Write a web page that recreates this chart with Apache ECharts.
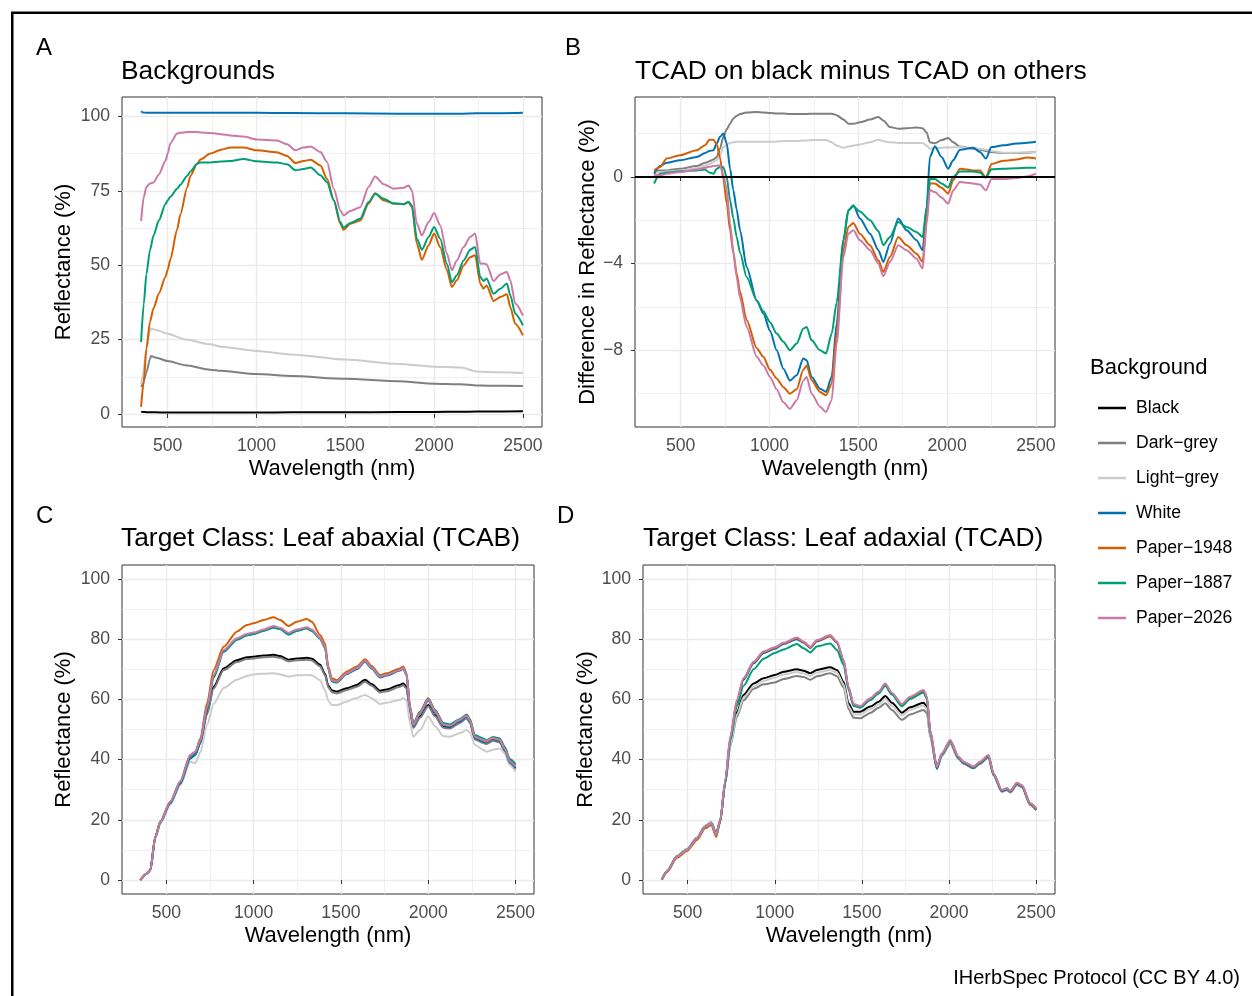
<!DOCTYPE html>
<html><head><meta charset="utf-8">
<script src="https://cdn.jsdelivr.net/npm/echarts@6/dist/echarts.min.js"></script>
<style>html,body{margin:0;padding:0;background:#fff}#c{width:1252px;height:996px}</style>
</head><body><div id="c"></div><script>
const FONT = '"Liberation Sans", Arial, Helvetica, sans-serif';
const seriesNames = ['Black','Dark\u2212grey','Light\u2212grey','White','Paper\u22121948','Paper\u22121887','Paper\u22122026'];
const seriesColors = ['#000000','#7f7f7f','#cccccc','#0072B2','#D55E00','#009E73','#CC79A7'];
const xTicks = [500,1000,1500,2000,2500];
const xMinor = [750,1250,1750,2250];
const yTicksA = [0,25,50,75,100];
const yMinorA = [12.5,37.5,62.5,87.5];
const yTicksB = [-8,-4,0];
const yMinorB = [-10,-6,-2,2];
const yTicksCD = [0,20,40,60,80,100];
const yMinorCD = [10,30,50,70,90];

// ---------- Panel A: Backgrounds ----------
const A_wl_bg = [350,360,380,400,406,430,500,600,740,800,1000,1200,1500,1800,2000,2150,2240,2300,2500];
const A_black = [0.8,0.7,0.6,0.6,0.6,0.55,0.5,0.5,0.5,0.5,0.5,0.55,0.6,0.65,0.7,0.75,0.8,0.8,0.9];
const A_darkgrey = [9.1,10,14,18.5,19.5,19,17.8,16.4,14.9,14.5,13.4,12.8,11.8,11.0,10.2,10.0,9.6,9.5,9.4];
const A_lightgrey = [10,13,22,27.8,28.6,28.3,27,25,23.4,22.6,21.2,20,18.3,16.8,15.9,15.6,14.3,14.1,13.8];
const A_white = [101.7,101.3,101.2,101.2,101.2,101.2,101.2,101.2,101.2,101.2,101.2,101.1,101.0,100.9,100.9,100.9,101.0,101.0,101.2];
const A_wl = [350,365,380,400,420,450,487,500,515,553,571,609,628,665,684,740,800,853,928,1000,1115,1172,1219,1265,1305,1360,1397,1435,1472,1490,1528,1584,1631,1668,1716,1772,1828,1856,1875,1903,1931,1969,2000,2034,2072,2100,2128,2166,2203,2231,2260,2278,2295,2335,2373,2410,2429,2457,2500];
const A_p1948 = [2.4,11,22,31,35.5,40.5,46,48.5,52,62,67,76,80,84,85.5,87.5,88.8,89.5,89.5,88.6,87.9,86.7,84.3,85,85.4,83.5,79,71.8,63.9,61.9,63.9,65,70.7,74.2,71.8,70.7,70.5,71.2,69.5,57.2,51.8,56.7,60.6,56.1,48.3,42.7,44.9,49.9,52.7,53.3,43.8,42.1,43.2,38,39.3,40.2,35.9,30.3,26.4];
const A_p1887 = [24.2,37,47,55,60,65,70.5,71.8,73,75.7,77,80,81.5,84.1,84.5,84.5,84.8,85,85.7,84.9,84.5,83.9,81.9,82.3,82.8,80.2,77.9,71.8,64.5,62.6,64.2,65.6,71.2,74,72.3,70.7,70.5,71.2,70.1,58.9,55.2,59.5,62.8,58.9,50.5,44.3,46.6,51.6,55.2,56.1,46,44.7,45.5,40.4,42.1,43.8,39.9,33.7,29.8];
const A_p2026 = [64.8,72.9,76.3,77.4,77.8,80.5,85,87.5,91,94.2,94.5,94.7,94.7,94.7,94.6,94.4,94,93.6,93.2,92.2,91.9,90.6,88.6,89.5,89.9,88,84.7,75.7,68.4,66.7,68.2,69.5,76.3,79.8,77.2,75.7,76,76.8,75.1,63.9,60,64.5,67.5,63.4,53.9,48.3,51.6,56.1,59.5,60.6,50.5,50.6,50.3,44.7,46.9,47.7,44.9,37.1,33.1];

// ---------- Panel B: TCAD on black minus TCAD on others ----------
const B_wl = [350,384,421,496,590,637,661,684,703,721,740,759,778,796,815,834,871,928,965,1003,1040,1078,1115,1153,1190,1209,1237,1284,1318,1350,1378,1416,1444,1472,1509,1566,1613,1641,1678,1725,1772,1828,1862,1885,1903,1931,1969,2006,2034,2072,2147,2185,2218,2250,2316,2391,2450,2500];
const B_darkgrey = [0.3,0.3,0.3,0.38,0.5,0.65,0.72,0.8,0.92,1.3,1.85,2.2,2.46,2.7,2.82,2.9,2.98,3.0,2.97,2.95,2.93,2.93,2.9,2.9,2.9,2.91,2.92,2.92,2.92,2.92,2.85,2.65,2.46,2.45,2.52,2.65,2.77,2.6,2.3,2.23,2.25,2.28,2.25,2.05,1.6,1.55,1.7,1.8,1.6,1.4,1.3,1.26,1.2,1.15,1.1,1.1,1.12,1.15];
const B_lightgrey = [0.15,0.2,0.25,0.3,0.4,0.52,0.6,0.68,0.77,1.0,1.38,1.5,1.57,1.6,1.62,1.62,1.62,1.62,1.62,1.62,1.64,1.65,1.66,1.66,1.68,1.68,1.7,1.7,1.7,1.6,1.45,1.35,1.4,1.45,1.5,1.6,1.72,1.65,1.6,1.57,1.57,1.57,1.57,1.45,1.3,1.33,1.35,1.36,1.37,1.38,1.35,1.3,1.25,1.2,1.12,1.12,1.13,1.15];
const B_white = [0.15,0.5,0.65,0.77,0.92,1.1,1.2,1.23,1.55,1.85,2.0,1.54,0.38,-0.6,-1.5,-2.46,-4.15,-5.7,-6.3,-7.1,-8,-8.85,-9.4,-9.15,-8.38,-8.46,-9.23,-9.77,-9.92,-9.23,-6.77,-2.92,-1.54,-1.31,-1.92,-2.62,-3.38,-3.92,-3.08,-1.92,-2.46,-2.92,-3.38,-1.38,0.92,1.42,0.92,0.38,0.77,1.26,1.35,1.15,0.85,1.38,1.46,1.54,1.58,1.62];
const B_p1948 = [0.3,0.46,0.85,1.0,1.23,1.46,1.72,1.72,1.5,0.9,-0.1,-1.2,-2.46,-3.5,-4.46,-5.3,-6.6,-7.9,-8.3,-8.9,-9.3,-9.7,-10.0,-9.8,-8.9,-8.7,-9.38,-9.92,-10.08,-9.54,-7.23,-3.38,-2.31,-2.12,-2.62,-3.15,-3.85,-4.38,-3.69,-2.77,-3.15,-3.54,-3.92,-1.85,-0.3,-0.3,-0.5,-0.77,-0.15,0.38,0.3,0.3,-0.03,0.6,0.75,0.8,0.9,0.85];
const B_p1887 = [-0.3,0.15,0.2,0.26,0.3,0.34,0.2,0.15,0.38,0.46,0.45,0.0,-1.08,-1.9,-2.77,-3.5,-4.62,-5.7,-6.2,-6.7,-7.23,-7.6,-8,-7.69,-7.0,-6.92,-7.54,-8,-8.15,-7.23,-5.8,-2.92,-1.54,-1.35,-1.6,-2.0,-2.5,-3.15,-2.77,-2.08,-2.31,-2.54,-2.77,-1.38,-0.1,-0.1,-0.3,-0.49,0.0,0.25,0.25,0.2,-0.03,0.35,0.38,0.4,0.42,0.43];
const B_p2026 = [0.08,0.08,0.15,0.23,0.34,0.42,0.47,0.5,0.52,0.54,0.1,-0.6,-2.15,-3.4,-4.62,-5.6,-6.92,-8.3,-8.7,-9.23,-9.8,-10.4,-10.7,-10.3,-9.4,-9.23,-10.0,-10.6,-10.85,-10.3,-7.7,-3.69,-2.62,-2.46,-2.92,-3.38,-4,-4.58,-3.92,-3.15,-3.38,-3.77,-4.23,-2.15,-0.6,-0.7,-0.95,-1.23,-0.62,-0.23,-0.3,-0.35,-0.62,-0.1,-0.1,-0.05,0.02,0.15];
const B_zeroLine = 0;

// ---------- Panel C: Leaf abaxial (TCAB) ----------
const C_wl = [351,389,408,437,466,523,580,637,666,695,733,771,828,904,961,1000,1057,1114,1152,1200,1247,1305,1333,1381,1409,1428,1448,1476,1533,1591,1638,1676,1724,1762,1838,1857,1876,1896,1915,1953,2000,2039,2086,2124,2182,2220,2239,2267,2315,2334,2372,2410,2439,2467,2500];
const C_black = [0,2.2,3.3,14.3,19.3,25.8,32.3,41,42,45.8,55.5,64.2,70.3,73,74,74.2,74.6,74.8,74.4,73.2,73.6,73.8,73.5,71.5,68.5,64.5,63,62.6,63.7,64.8,66.5,65.1,62.9,63.3,64.8,65.3,64.2,56,50.9,54.3,58.1,54.8,50.9,50.6,52.5,54,52.5,47,45.8,45.5,46.6,46,43,39,37.1];
const C_darkgrey = [0,2.2,3.3,14.3,19.3,25.8,32.3,41,42,45.6,55,63.6,69.7,72.4,73.4,73.6,74,74.2,73.8,72.6,73,73.2,72.9,71,68,64,62.4,62,63.1,64.2,65.9,64.5,62.3,62.7,64.2,64.7,63.6,55.6,50.5,53.9,57.7,54.4,50.6,50.3,52.2,53.7,52.2,46.7,45.5,45.2,46.3,45.7,42.7,38.7,36.8];
const C_lightgrey = [0,2.0,3.0,13.8,18.7,25,31.5,39.3,38.8,42.5,51.5,58.5,63.8,66.5,67.8,68.3,68.5,68.7,68.3,67.6,68,68.1,68,66.4,63,59.5,58.1,58.1,59.3,60.5,61.5,60.4,58.5,58.9,59.8,60.4,59.6,52,47.6,49.8,54.3,51.2,47.8,47.6,48.8,49.8,49,44.9,43.3,42.6,43.3,43.7,42,38.2,36];
const C_white = [0,2.2,3.3,14.2,19.2,25.5,32,40.3,41.5,45.5,56.8,67.3,75.8,79.8,81.3,81.7,82.8,83.9,83.4,81.6,82.8,83.6,82.8,80.2,77.2,70,66,65.6,68.4,70,72.5,70.3,67.3,67.9,69.6,70.2,68,56.8,51.2,55.2,59.6,55.7,51.4,51,52.8,54.4,52.7,47.2,46,45.7,46.8,46.2,43,39,37.2];
const C_p1948 = [0,2.2,3.3,14.4,19.4,26,32.7,41.5,42.6,47,58.7,69.8,77.5,82.5,84.7,85.3,86.4,87.3,86.4,84.4,85.8,86.7,85.8,81.4,78.6,70.9,67,66.4,69.2,70.9,73.3,71.1,68.1,68.7,70.3,70.9,68.7,57.6,52,55.9,60.4,56.5,52,51.5,53.2,54.8,53.2,47.8,46.5,46,47.1,46.5,43.7,39.9,38.2];
const C_p1887 = [0,2.2,3.3,14.4,19.4,26,32.7,41.3,42.4,46.2,57.2,67.8,76,79.9,81.3,81.8,82.8,83.9,83.4,81.6,82.8,83.6,82.8,80.2,77.2,70,66.2,65.8,68.6,70.3,72.8,70.6,67.6,68.2,69.8,70.4,68.2,57.4,51.9,55.8,60.2,56.4,52.2,51.7,53.5,55,53.5,48.2,47,46.5,47.5,47,44.2,40.2,38.6];
const C_p2026 = [0,2.2,3.3,14.4,19.4,26,32.7,41.5,42.6,46.5,57.5,68.1,76.4,80.3,81.7,82.2,83.2,84.4,83.8,82.1,83.2,84,83.2,80.5,77.5,70.3,66.4,65.9,68.7,70.4,72.8,70.6,67.6,68.2,69.8,70.4,68.2,57.2,51.6,55.5,60,56.1,51.7,51.3,53.2,54.6,53,47.6,46.5,46.2,47.2,46.6,43.5,39.4,37.8];

// ---------- Panel D: Leaf adaxial (TCAD) ----------
const D_wl = [353,381,439,496,554,601,636,664,687,716,745,783,821,879,936,1000,1051,1127,1165,1204,1242,1318,1357,1395,1423,1452,1490,1548,1596,1634,1672,1729,1777,1854,1873,1892,1930,1959,2007,2054,2083,2141,2178,2226,2255,2303,2332,2351,2390,2418,2466,2500];
const D_black = [0.2,2.8,7.9,10.2,14,18,19.2,15.5,19.8,32.5,45.5,55.8,61.5,65.3,67,68.1,69.2,70,69.5,68.7,69.8,70.7,69.8,65.9,58.7,55.9,55.9,57.6,59.2,61.1,58.9,55.6,57.4,58.9,57.6,48.5,37.6,41.8,46,40.7,39,37.5,39,41.2,35.2,29.7,30.3,29.5,32,31.2,25.3,23.6];
const D_darkgrey = [0.2,2.8,7.9,10.2,14,18,19.2,15.5,19.8,32,44.5,54.2,59.7,63.5,65,65.6,66.8,67.8,67.4,66.5,67.7,68.7,67.7,64,56.8,53.9,53.7,55.5,57.2,58.7,56.5,53.2,55,56.5,55.4,47.5,37,41.2,45.3,40.2,38.6,37.1,38.6,40.8,34.8,29.3,29.9,29.1,31.6,30.8,24.9,23.2];
const D_lightgrey = [0.2,2.8,7.9,10.2,14,18,19.2,15.5,19.8,32.3,45,55,60.6,64.4,66.1,67.2,68.3,69.1,68.6,67.8,68.9,69.8,68.9,65,57.8,55,55,56.7,58.3,60.1,58,54.7,56.5,58,56.8,48,37.2,41.4,45.6,40.4,38.8,37.3,38.8,41,35,29.5,30.1,29.3,31.8,31,25.1,23.4];
const D_white = [0.2,2.8,7.8,10,13.8,17.7,18.8,15.2,19.6,32.5,46.8,59,66.5,72,75.4,76.8,78.4,80,78.8,77.1,79.3,81,78.8,72.8,63.8,57.9,57.3,60,62.2,64.9,61.8,58.1,60.5,62.7,60.4,49,37,41.6,46,40.5,38.8,37.2,38.8,41,35,29.5,30.1,29.3,31.9,31.1,25.1,23.3];
const D_p1948 = [0.2,2.6,7.4,9.6,13.3,17.2,18.3,14.3,19.3,32.8,47.4,59.7,67,72.4,75.8,77.2,78.7,80.4,79,77.3,79.5,81.1,79,73,64,58.3,57.6,60.2,62.4,65,62,58.3,60.7,62.9,60.7,49.5,37.5,41.9,46.3,40.8,39.1,37.5,39.1,41.3,35.2,29.7,30.3,29.5,32.1,31.3,25.2,23.5];
const D_p1887 = [0.2,2.8,7.8,10,13.8,17.7,18.8,15,19.6,32.3,46.3,57.8,64.5,70,73.5,75.4,76.6,78.4,77,75.6,77.6,78.6,76.4,71.5,63.3,57.9,57.3,59.8,62,64.5,61.6,57.7,60.1,62.3,60.2,49.3,37.5,41.9,46.3,40.9,39.2,37.6,39.2,41.4,35.3,29.8,30.4,29.6,32.2,31.4,25.4,23.7];
const D_p2026 = [0.2,2.8,7.8,10,13.8,17.7,18.8,15,19.9,33.2,47.6,59.8,67,72.5,75.9,77.3,78.8,80.6,79.2,77.5,79.7,81.4,79.2,73.1,64.2,58.5,57.8,60.4,62.6,65.3,62.2,58.5,60.9,63.1,60.9,49.8,37.7,42.1,46.5,41,39.3,37.7,39.3,41.5,35.4,29.9,30.5,29.7,32.3,31.5,25.5,23.8];

// ---------- assemble ----------
const panels = [
  { grid:{left:122, top:97, width:420, height:330}, xr:[242.5,2607.5], yr:[-4.37,106.5],
    yTicks:yTicksA, yMinor:yMinorA, yName:'Reflectance (%)', yGap:47,
    lines:[[A_wl_bg,A_black],[A_wl_bg,A_darkgrey],[A_wl_bg,A_lightgrey],[A_wl_bg,A_white],[A_wl,A_p1948],[A_wl,A_p1887],[A_wl,A_p2026]] },
  { grid:{left:635, top:97, width:420, height:330}, xr:[242.5,2607.5], yr:[-11.54,3.69],
    yTicks:yTicksB, yMinor:yMinorB, yName:'Difference in Reflectance (%)', yGap:32,
    lines:[null,[B_wl,B_darkgrey],[B_wl,B_lightgrey],[B_wl,B_white],[B_wl,B_p1948],[B_wl,B_p1887],[B_wl,B_p2026]] },
  { grid:{left:122, top:565, width:412, height:329}, xr:[246,2606], yr:[-4.65,104.65],
    yTicks:yTicksCD, yMinor:yMinorCD, yName:'Reflectance (%)', yGap:47,
    lines:[[C_wl,C_black],[C_wl,C_darkgrey],[C_wl,C_lightgrey],[C_wl,C_white],[C_wl,C_p1948],[C_wl,C_p1887],[C_wl,C_p2026]] },
  { grid:{left:643, top:565, width:412, height:329}, xr:[244,2608], yr:[-4.65,104.65],
    yTicks:yTicksCD, yMinor:yMinorCD, yName:'Reflectance (%)', yGap:46,
    lines:[[D_wl,D_black],[D_wl,D_darkgrey],[D_wl,D_lightgrey],[D_wl,D_white],[D_wl,D_p1948],[D_wl,D_p1887],[D_wl,D_p2026]] }
];

const tickFmt = v => (v < 0 ? '\u2212' + Math.abs(v) : String(v));
const grid = [], xAxis = [], yAxis = [], series = [];
panels.forEach((p, i) => {
  grid.push(Object.assign({show:true, borderColor:'#333333', borderWidth:1, backgroundColor:'#ffffff', containLabel:false}, p.grid));
  xAxis.push({type:'value', gridIndex:i, min:p.xr[0], max:p.xr[1],
    axisLine:{show:false},
    axisTick:{show:true, length:4, customValues:xTicks, lineStyle:{color:'#333333', width:1}},
    axisLabel:{customValues:xTicks, margin:10, fontSize:17.6, color:'#4D4D4D', fontFamily:FONT, formatter:tickFmt},
    splitLine:{show:true, lineStyle:{color:'#EBEBEB', width:1.4}},
    name:'Wavelength (nm)', nameLocation:'middle', nameGap:31,
    nameTextStyle:{fontSize:22, color:'#000', fontFamily:FONT}});
  xAxis.push({type:'value', gridIndex:i, min:p.xr[0], max:p.xr[1],
    axisLine:{show:false}, axisTick:{show:false, customValues:xMinor},
    axisLabel:{show:false, customValues:xMinor},
    splitLine:{show:true, lineStyle:{color:'#EBEBEB', width:0.7}}});
  yAxis.push({type:'value', gridIndex:i, min:p.yr[0], max:p.yr[1],
    axisLine:{show:false},
    axisTick:{show:true, length:4, customValues:p.yTicks, lineStyle:{color:'#333333', width:1}},
    axisLabel:{customValues:p.yTicks, margin:12, fontSize:17.6, color:'#4D4D4D', fontFamily:FONT, formatter:tickFmt},
    splitLine:{show:true, lineStyle:{color:'#EBEBEB', width:1.4}},
    name:p.yName, nameLocation:'middle', nameGap:p.yGap, nameRotate:90,
    nameTextStyle:{fontSize:22, color:'#000', fontFamily:FONT}});
  yAxis.push({type:'value', gridIndex:i, min:p.yr[0], max:p.yr[1],
    axisLine:{show:false}, axisTick:{show:false, customValues:p.yMinor},
    axisLabel:{show:false, customValues:p.yMinor},
    splitLine:{show:true, lineStyle:{color:'#EBEBEB', width:0.7}}});
  p.lines.forEach((ln, k) => {
    const s = {type:'line', name:seriesNames[k], xAxisIndex:2*i, yAxisIndex:2*i,
      showSymbol:false, symbol:'none', smooth:0.25, smoothMonotone:'x', silent:true,
      lineStyle:{color:seriesColors[k], width:2}, itemStyle:{color:seriesColors[k]},
      data: ln ? ln[0].map((w, j) => [w, ln[1][j]]) : []};
    if (!ln) {
      s.markLine = {silent:true, symbol:'none', label:{show:false},
        lineStyle:{color:'#000000', width:2, type:'solid'},
        data:[{yAxis:B_zeroLine}]};
    }
    series.push(s);
  });
});

const txt = (x, y, t, size, align) => ({type:'text', x, y,
  style:{text:t, fill:'#000', font:size + 'px ' + FONT, textAlign:align || 'left', textVerticalAlign:'middle'}});

const option = {
  animation:false,
  backgroundColor:'#ffffff',
  grid, xAxis, yAxis, series,
  legend:{data:seriesNames, orient:'vertical', left:1093, top:393, itemWidth:28, itemHeight:2.5,
    icon:'rect', itemGap:15, selectedMode:false,
    textStyle:{fontSize:17.6, color:'#000', fontFamily:FONT, lineHeight:20, padding:[0,0,0,5]}},
  graphic:[
    {type:'rect', shape:{x:12.25, y:12.75, width:1400, height:1200}, style:{fill:'none', stroke:'#000', lineWidth:2.5}},
    txt(36, 48, 'A', 24), txt(565, 48, 'B', 24), txt(36, 516, 'C', 24), txt(557, 516, 'D', 24),
    txt(121, 72, 'Backgrounds', 26.4),
    txt(635, 72, 'TCAD on black minus TCAD on others', 26.4),
    txt(121, 539, 'Target Class: Leaf abaxial (TCAB)', 26.4),
    txt(643, 539, 'Target Class: Leaf adaxial (TCAD)', 26.4),
    txt(1090, 368, 'Background', 22),
    txt(1240, 978, 'IHerbSpec Protocol (CC BY 4.0)', 20, 'right')
  ]
};
const chart = echarts.init(document.getElementById('c'));
chart.setOption(option);
</script></body></html>
